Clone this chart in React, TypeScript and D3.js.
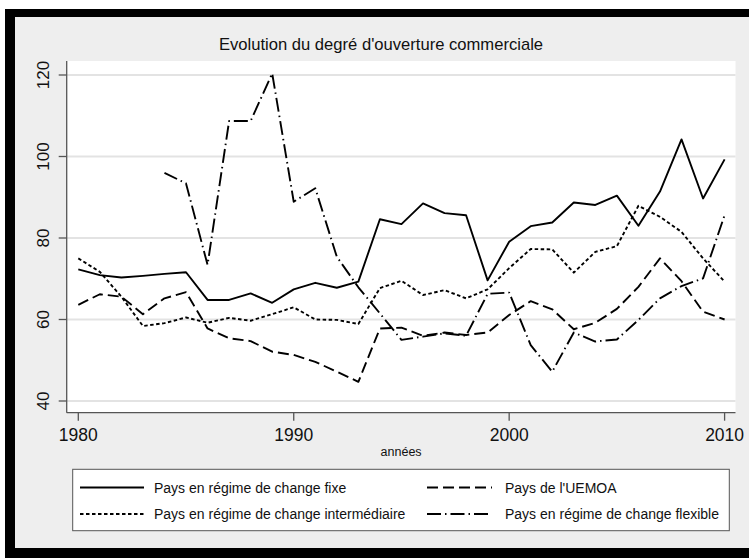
import React from "react";
import * as d3 from "d3";

const years = d3.range(1980, 2011);
const fixe = [72.3, 70.9, 70.3, 70.7, 71.2, 71.6, 64.8, 64.8, 66.4, 64.1, 67.4, 69.0, 67.8, 69.3, 84.6, 83.4, 88.5, 86.1, 85.6, 69.6, 79.1, 82.9, 83.8, 88.7, 88.1, 90.4, 83.0, 91.4, 104.2, 89.7, 99.3];
const intermediaire = [75.0, 71.7, 65.6, 58.4, 59.1, 60.5, 59.2, 60.4, 59.7, 61.3, 63.0, 60.0, 59.9, 58.9, 67.7, 69.5, 66.0, 67.2, 65.2, 67.4, 72.6, 77.3, 77.2, 71.5, 76.6, 78.0, 87.9, 85.2, 81.5, 75.0, 69.3];
const uemoa = [63.6, 66.2, 65.6, 61.3, 65.2, 66.7, 57.8, 55.4, 54.7, 52.1, 51.3, 49.6, 47.2, 44.7, 57.8, 58.0, 56.0, 56.8, 56.2, 56.8, 61.1, 64.5, 62.5, 57.6, 59.2, 62.6, 68.0, 75.0, 69.4, 61.9, 60.0];
const flexible: (number | null)[] = [null, null, null, null, 96.0, 93.4, 73.4, 108.7, 108.7, 120.4, 88.9, 92.2, 75.4, 67.9, 61.5, 55.0, 55.8, 56.6, 56.0, 66.3, 66.6, 53.7, 47.2, 56.8, 54.6, 55.1, 59.9, 65.2, 68.2, 70.1, 85.6];

const yTicks = [40, 60, 80, 100, 120];
const xTicks = [1980, 1990, 2000, 2010];
const title = "Evolution du degré d'ouverture commerciale";
const xTitle = "années";

const seriesNames = [
  "Pays en régime de change fixe",
  "Pays de l'UEMOA",
  "Pays en régime de change intermédiaire",
  "Pays en régime de change flexible",
];

const FONT = "'Liberation Sans', Arial, Helvetica, sans-serif";

export default function App() {
  const W = 749, H = 558;
  const plotL = 66.7, plotR = 735.5, plotT = 61, plotB = 412.7;
  const x = d3.scaleLinear().domain([1980, 2010]).range([78.3, 724.6]);
  const y = d3.scaleLinear().domain([40, 120]).range([401, 75]);

  const line = d3
    .line<number | null>()
    .defined((d) => d != null)
    .x((_, i) => x(years[i]))
    .y((d) => y(d as number));

  const series = [
    { data: fixe, dash: "none" },
    { data: uemoa, dash: "11,5" },
    { data: intermediaire, dash: "3.5,2.5" },
    { data: flexible, dash: "14,4,1.5,4" },
  ];

  const legendRows = [
    { sx: 80, sw: 64, tx: 154, y: 487.5, s: 0 },
    { sx: 427, sw: 65, tx: 505, y: 487.5, s: 1 },
    { sx: 80, sw: 64, tx: 154, y: 514, s: 2 },
    { sx: 427, sw: 65, tx: 505, y: 514, s: 3 },
  ];

  return (
    <svg
      width={W}
      height={H}
      style={{ position: "fixed", left: 0, top: 0, background: "#fff" }}
      fontFamily={FONT}
    >
      {/* black frame */}
      <rect x={5} y={9} width={W - 5} height={549} fill="#000" />
      <rect x={15} y={17} width={W - 15} height={531} fill="#eeeeee" />

      <text x={381} y={50} textAnchor="middle" fontSize={16.6} fill="#111">
        {title}
      </text>

      {/* plot area */}
      <rect x={plotL} y={plotT} width={plotR - plotL} height={plotB - plotT} fill="#fff" />
      {yTicks.map((t) => (
        <line key={t} x1={plotL} x2={plotR} y1={y(t)} y2={y(t)} stroke="#e3e3e3" strokeWidth={2} />
      ))}

      {series.map((s, i) => (
        <path
          key={i}
          d={line(s.data) || ""}
          fill="none"
          stroke="#000"
          strokeWidth={1.9}
          strokeDasharray={s.dash}
          strokeLinejoin="round"
        />
      ))}

      {/* axes */}
      <line x1={plotL} x2={plotL} y1={plotT} y2={plotB} stroke="#555" strokeWidth={1.3} />
      <line x1={plotL} x2={plotR} y1={plotB} y2={plotB} stroke="#555" strokeWidth={1.3} />
      {yTicks.map((t) => (
        <g key={t}>
          <line x1={plotL - 8} x2={plotL} y1={y(t)} y2={y(t)} stroke="#555" strokeWidth={1.3} />
          <text
            transform={`translate(49, ${y(t)}) rotate(-90)`}
            textAnchor="middle"
            fontSize={17}
            fill="#111"
          >
            {t}
          </text>
        </g>
      ))}
      {xTicks.map((t) => (
        <g key={t}>
          <line x1={x(t)} x2={x(t)} y1={plotB} y2={plotB + 8} stroke="#555" strokeWidth={1.3} />
          <text x={x(t)} y={441} textAnchor="middle" fontSize={17.5} fill="#111">
            {t}
          </text>
        </g>
      ))}
      <text x={(plotL + plotR) / 2} y={456} textAnchor="middle" fontSize={12.5} fill="#111">
        {xTitle}
      </text>

      {/* legend */}
      <rect x={72.7} y={469.3} width={656.6} height={61.4} fill="#fff" stroke="#555" strokeWidth={1} />
      {legendRows.map((r) => (
        <g key={r.s}>
          <line
            x1={r.sx}
            x2={r.sx + r.sw}
            y1={r.y}
            y2={r.y}
            stroke="#000"
            strokeWidth={1.8}
            strokeDasharray={series[r.s].dash}
          />
          <text x={r.tx} y={r.y + 5} fontSize={14} fill="#111">
            {seriesNames[r.s]}
          </text>
        </g>
      ))}
    </svg>
  );
}
